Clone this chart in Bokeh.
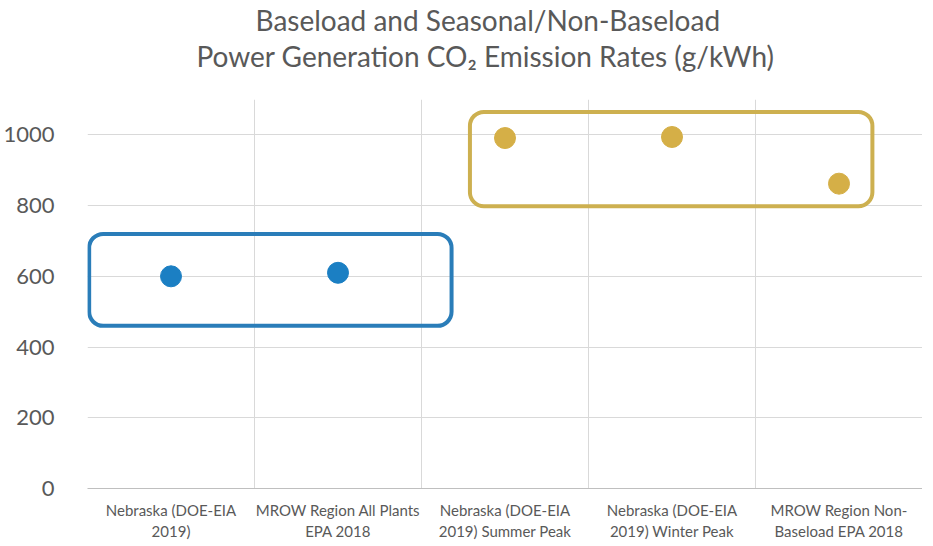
from bokeh.plotting import figure
from bokeh.models import BoxAnnotation, FixedTicker, Grid, Range1d, Title
from bokeh.embed import file_html
from bokeh.resources import INLINE

title_lines = [
    "Baseload and Seasonal/Non-Baseload",
    "Power Generation CO\u2082 Emission Rates (g/kWh)",
]
categories = [
    "Nebraska (DOE-EIA\n2019)",
    "MROW Region All Plants\nEPA 2018",
    "Nebraska (DOE-EIA\n2019) Summer Peak",
    "Nebraska (DOE-EIA\n2019) Winter Peak",
    "MROW Region Non-\nBaseload EPA 2018",
]
baseload_idx = [0, 1]
baseload_vals = [600, 610]
peak_idx = [2, 3, 4]
peak_vals = [991, 994, 862]
y_ticks = [0, 200, 400, 600, 800, 1000]

BLUE = "#1B7FC3"
BLUE_BOX = "#2A7DB9"
GOLD = "#D5AF47"
GOLD_BOX = "#CDB050"
GREY = "#595959"
FONT = "Lato"

p = figure(frame_width=835, frame_height=389, output_backend="svg", toolbar_location=None,
           x_range=Range1d(0, len(categories)), y_range=Range1d(0, 1100),
           min_border_left=80, min_border_right=0, min_border_top=0, min_border_bottom=0)
p.title = None

# spacer between the title block and the plot area
p.add_layout(Title(text=" ", text_font=FONT, text_font_size="21px", standoff=0), "above")
# titles: second line added first so it sits closer to the plot
title_offsets = [168, 109]
for txt, off in reversed(list(zip(title_lines, title_offsets))):
    p.add_layout(Title(text=txt, align="left", text_font=FONT, text_font_style="normal",
                       text_font_size="28px", text_color=GREY, offset=off, standoff=0),
                 "above")

p.outline_line_color = None
p.background_fill_color = "white"
p.border_fill_color = "white"

# y axis
p.yaxis.ticker = FixedTicker(ticks=y_ticks)
p.yaxis.axis_line_color = None
p.yaxis.major_tick_line_color = None
p.yaxis.minor_tick_line_color = None
p.yaxis.major_label_text_font = FONT
p.yaxis.major_label_text_font_size = "22px"
p.yaxis.major_label_text_color = GREY
p.yaxis.major_label_standoff = 27

# x axis
centers = [i + 0.5 for i in range(len(categories))]
p.xaxis.ticker = FixedTicker(ticks=centers)
p.xaxis.major_label_overrides = {c: lab for c, lab in zip(centers, categories)}
p.xaxis.axis_line_color = "#BFBFBF"
p.xaxis.major_tick_line_color = None
p.xaxis.minor_tick_line_color = None
p.xaxis.major_label_text_font = FONT
p.xaxis.major_label_text_font_size = "15px"
p.xaxis.major_label_text_color = GREY
p.xaxis.major_label_text_line_height = 1.2
p.xaxis.major_label_standoff = 6

p.ygrid.grid_line_color = "#D9D9D9"
p.xgrid.visible = False
p.add_layout(Grid(dimension=0, ticker=FixedTicker(ticks=list(range(len(categories) + 1))),
                  grid_line_color="#D9D9D9"))

# group boxes
b_x = [centers[i] for i in baseload_idx]
g_x = [centers[i] for i in peak_idx]
p.add_layout(BoxAnnotation(left=min(b_x) - 0.49, right=max(b_x) + 0.68,
                           bottom=min(baseload_vals) - 140, top=max(baseload_vals) + 110,
                           fill_alpha=0, line_color=BLUE_BOX, line_width=4, line_alpha=1,
                           border_radius=14))
p.add_layout(BoxAnnotation(left=min(g_x) - 0.21, right=max(g_x) + 0.2,
                           bottom=min(peak_vals) - 64, top=max(peak_vals) + 71,
                           fill_alpha=0, line_color=GOLD_BOX, line_width=4, line_alpha=1,
                           border_radius=14))

p.scatter(x=b_x, y=baseload_vals, size=21, color=BLUE, line_color=BLUE)
p.scatter(x=g_x, y=peak_vals, size=21, color=GOLD, line_color=GOLD)

open("out.html", "w").write(file_html(p, INLINE))
